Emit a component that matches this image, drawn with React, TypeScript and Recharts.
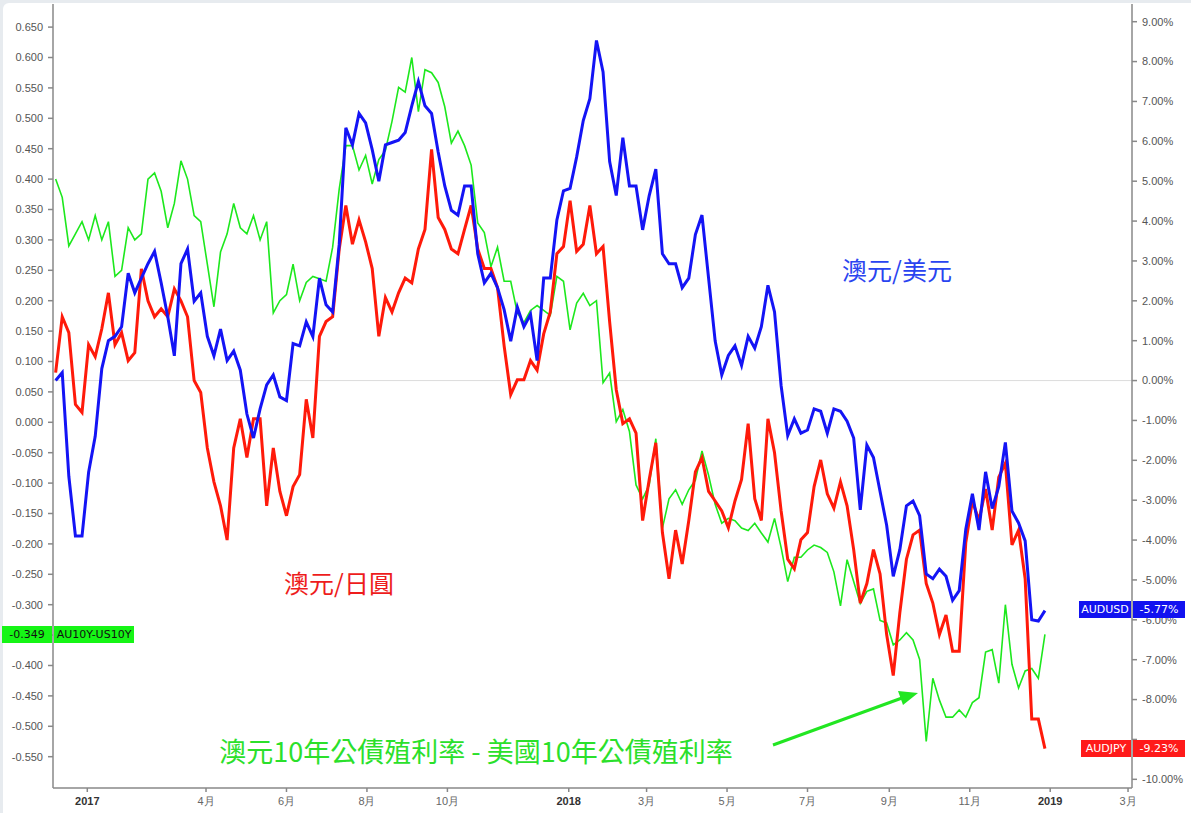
import { LineChart, Line, XAxis, YAxis, ReferenceLine } from 'recharts';

// sample grid: every 5 days starting 2016-12-08 (day offsets from 2017-01-01)
const START_DAY = -24;
const STEP_DAYS = 5;

// AU10Y - US10Y spread (left axis)
const SPREAD = [
  0.40, 0.37, 0.29, 0.31, 0.33, 0.30, 0.34, 0.30, 0.33, 0.24,
  0.25, 0.32, 0.30, 0.31, 0.40, 0.41, 0.38, 0.32, 0.36, 0.43,
  0.40, 0.34, 0.33, 0.26, 0.19, 0.28, 0.31, 0.36, 0.32, 0.31,
  0.34, 0.30, 0.33, 0.18, 0.20, 0.21, 0.26, 0.20, 0.23, 0.24,
  0.236, 0.232, 0.288, 0.384, 0.455, 0.455, 0.415, 0.439, 0.392, 0.432,
  0.447, 0.495, 0.551, 0.543, 0.600, 0.511, 0.580, 0.575, 0.559, 0.519,
  0.459, 0.479, 0.455, 0.423, 0.328, 0.312, 0.256, 0.288, 0.232, 0.232,
  0.180, 0.164, 0.184, 0.192, 0.184, 0.176, 0.240, 0.232, 0.152, 0.196,
  0.212, 0.192, 0.200, 0.065, 0.081, 0.001, 0.021, -0.015, -0.103, -0.126,
  -0.103, -0.027, -0.174, -0.126, -0.111, -0.135, -0.111, -0.095, -0.047, -0.087,
  -0.135, -0.166, -0.158, -0.162, -0.174, -0.178, -0.166, -0.182, -0.197, -0.158,
  -0.206, -0.262, -0.222, -0.222, -0.210, -0.202, -0.206, -0.214, -0.246, -0.302,
  -0.226, -0.262, -0.298, -0.278, -0.274, -0.326, -0.330, -0.366, -0.358, -0.346,
  -0.358, -0.390, -0.525, -0.421, -0.457, -0.485, -0.485, -0.473, -0.485, -0.461,
  -0.453, -0.378, -0.374, -0.429, -0.300, -0.398, -0.437, -0.409, -0.405, -0.421,
  -0.349,
];

// AUD/USD % change (right axis)
const AUDUSD = [
  0.0, 0.2, -2.4, -3.9, -3.9, -2.3, -1.4, 0.3, 1.0, 1.11,
  1.35, 2.69, 2.20, 2.57, 2.93, 3.24, 2.45, 1.60, 0.62, 2.93,
  3.30, 1.99, 2.20, 1.11, 0.62, 1.29, 0.50, 0.74, 0.26, -0.84,
  -1.44, -0.71, -0.11, 0.14, -0.41, -0.5, 0.93, 0.87, 1.47, 1.10,
  2.57, 1.90, 1.72, 3.42, 6.34, 5.91, 6.70, 6.46, 5.79, 5.00,
  5.91, 5.97, 6.03, 6.22, 6.89, 7.50, 6.89, 6.70, 5.73, 4.88,
  4.27, 4.15, 4.88, 4.88, 3.18, 2.45, 2.69, 2.33, 1.78, 0.99,
  1.84, 1.35, 1.66, 0.50, 2.57, 2.57, 4.03, 4.76, 4.82, 5.61,
  6.52, 7.07, 8.53, 7.74, 5.49, 4.64, 6.09, 4.88, 4.88, 3.78,
  4.64, 5.30, 3.18, 2.93, 2.93, 2.33, 2.57, 3.66, 4.15, 2.57,
  0.99, 0.14, 0.63, 0.87, 0.38, 1.11, 0.81, 1.35, 2.39, 1.72,
  -0.13, -1.38, -0.96, -1.32, -1.24, -0.71, -0.77, -1.32, -0.71, -0.77,
  -1.02, -1.44, -3.24, -1.62, -1.93, -2.78, -3.63, -4.91, -4.24, -3.14,
  -3.02, -3.39, -4.85, -4.97, -4.73, -4.91, -5.51, -5.27, -3.73, -2.84,
  -3.75, -2.29, -3.21, -2.66, -1.55, -3.27, -3.57, -4.02, -6.00, -6.03,
  -5.77,
];

// AUD/JPY % change (right axis)
const AUDJPY = [
  0.2, 1.6, 1.2, -0.6, -0.8, 0.9, 0.6, 1.3, 2.2, 0.9,
  1.2, 0.5, 0.7, 2.8, 2.0, 1.6, 1.8, 1.6, 2.3, 2.0,
  1.6, 0.0, -0.3, -1.69, -2.54, -3.14, -4.0, -1.69, -0.96, -1.93,
  -0.96, -0.96, -3.14, -1.69, -2.78, -3.39, -2.66, -2.36, -0.47, -1.44,
  1.11, 1.48, 1.60, 3.30, 4.39, 3.42, 4.03, 3.48, 2.81, 1.11,
  2.08, 1.72, 2.20, 2.57, 2.45, 3.30, 3.79, 5.80, 4.09, 3.79,
  3.30, 3.18, 3.79, 4.39, 3.30, 2.81, 2.81, 2.33, 0.87, -0.35,
  0.02, 0.02, 0.50, 0.26, 1.17, 1.72, 3.18, 3.36, 4.51, 3.24,
  3.42, 4.39, 3.18, 3.36, 1.47, -0.23, -1.08, -0.96, -1.32, -3.51,
  -2.48, -1.56, -3.81, -4.97, -3.75, -4.60, -3.51, -2.29, -1.93, -2.78,
  -3.02, -3.27, -3.69, -3.02, -2.48, -1.08, -2.96, -3.51, -0.96, -1.81,
  -3.27, -4.48, -4.72, -3.99, -3.81, -2.66, -1.99, -2.84, -3.2, -2.54,
  -3.14, -4.24, -5.58, -5.09, -4.24, -4.85, -6.37, -7.40, -5.82, -4.48,
  -3.87, -3.75, -5.09, -5.58, -6.37, -5.88, -6.79, -6.79, -4.06, -3.02,
  -3.51, -2.72, -3.75, -2.42, -2.07, -4.12, -3.75, -4.97, -8.49, -8.49,
  -9.23,
];

const X_TICKS = [
  '2017-01-01', '2017-04-01', '2017-06-01', '2017-08-01', '2017-10-01',
  '2018-01-01', '2018-03-01', '2018-05-01', '2018-07-01', '2018-09-01', '2018-11-01',
  '2019-01-01', '2019-03-01',
];
const X_TICK_LABELS = ['2017', '4月', '6月', '8月', '10月', '2018', '3月', '5月', '7月', '9月', '11月', '2019', '3月'];

const LEFT_TICKS = [0.65, 0.6, 0.55, 0.5, 0.45, 0.4, 0.35, 0.3, 0.25, 0.2, 0.15, 0.1, 0.05, 0,
  -0.05, -0.1, -0.15, -0.2, -0.25, -0.3, -0.35, -0.4, -0.45, -0.5, -0.55];
const RIGHT_TICKS = [9, 8, 7, 6, 5, 4, 3, 2, 1, 0, -1, -2, -3, -4, -5, -6, -7, -8, -9, -10];

// tick labels hidden behind the last-value boxes
const LEFT_HIDDEN = [-0.35];
const RIGHT_HIDDEN = [-9];

const dayOf = (iso: string) => {
  const [y, m, d] = iso.split('-').map(Number);
  return (Date.UTC(y, m - 1, d) - Date.UTC(2017, 0, 1)) / 86400000;
};
const xTickDays = X_TICKS.map(dayOf);

const data = SPREAD.map((v, i) => ({
  day: START_DAY + i * STEP_DAYS,
  spread: v,
  audusd: AUDUSD[i],
  audjpy: AUDJPY[i],
}));

const FONT = '"Liberation Sans", Arial, sans-serif';
const CJK = '"Noto Sans CJK TC", "Noto Sans CJK SC", sans-serif';

const XTick = (props: any) => {
  const { x, y, payload } = props;
  const idx = xTickDays.indexOf(payload.value);
  const label = X_TICK_LABELS[idx] ?? '';
  const isYear = /^\d{4}$/.test(label);
  return (
    <text x={x} y={y} dy="0.71em" textAnchor="middle" fontSize={11} fontFamily={FONT}
      fill={isYear ? '#333' : '#666'} fontWeight={isYear ? 700 : 400}>
      {label}
    </text>
  );
};

const boxText = {
  position: 'absolute' as const,
  height: 17,
  lineHeight: '17px',
  fontSize: 11,
  fontFamily: '"DejaVu Sans", sans-serif',
  textAlign: 'center' as const,
};

export default function App() {
  return (
    <div style={{ position: 'fixed', left: 0, top: 0, width: 1191, height: 813, background: '#e7ebef', overflow: 'hidden' }}>
      <div style={{ position: 'absolute', left: 3, top: 3, width: 1188, height: 810, background: '#fff', borderTopLeftRadius: 6 }} />
      <div style={{ position: 'absolute', left: 0, top: 0 }}>
        <LineChart width={1191} height={813} data={data} margin={{ top: 4, right: 0, bottom: 0, left: 0 }}>
          <XAxis dataKey="day" type="number" domain={[-26, 792]} ticks={xTickDays} tick={<XTick />}
            height={25} tickSize={4} tickMargin={5} stroke="#888" strokeWidth={1.5} interval={0} allowDataOverflow />
          <YAxis yAxisId="left" orientation="left" width={53} domain={[-0.6015, 0.688]} ticks={LEFT_TICKS}
            tickFormatter={(v: number) => (LEFT_HIDDEN.includes(v) ? '' : v.toFixed(3))} tickSize={5} tickMargin={5} interval={0}
            stroke="#888" strokeWidth={1.5} tick={{ fill: '#555', fontSize: 11, fontFamily: FONT }} allowDataOverflow />
          <YAxis yAxisId="right" orientation="right" width={59} domain={[-10.218, 9.444]} ticks={RIGHT_TICKS}
            tickFormatter={(v: number) => (RIGHT_HIDDEN.includes(v) ? '' : `${v.toFixed(2)}%`)} tickSize={5} tickMargin={5} interval={0}
            stroke="#888" strokeWidth={1.5} tick={{ fill: '#555', fontSize: 11, fontFamily: FONT }} allowDataOverflow />
          <ReferenceLine yAxisId="right" y={0} stroke="#dcdcdc" strokeWidth={1} />
          <Line yAxisId="left" dataKey="spread" stroke="#1de81d" strokeWidth={1.6} dot={false} isAnimationActive={false} />
          <Line yAxisId="right" dataKey="audjpy" stroke="#ff1a0a" strokeWidth={3} dot={false} isAnimationActive={false} />
          <Line yAxisId="right" dataKey="audusd" stroke="#1414f5" strokeWidth={3} dot={false} isAnimationActive={false} />
        </LineChart>
      </div>

      <svg width={1191} height={813} style={{ position: 'absolute', left: 0, top: 0, pointerEvents: 'none' }}>
        <text x={897} y={280} textAnchor="middle" fontSize={25} fontFamily={CJK} fill="#2a44f0">澳元/美元</text>
        <text x={339} y={593} textAnchor="middle" fontSize={25} fontFamily={CJK} fill="#ee1c1c">澳元/日圓</text>
        <text x={476} y={762} textAnchor="middle" fontSize={27} fontFamily={CJK} fill="#2be02b">
          澳元10年公債殖利率 - 美國10年公債殖利率
        </text>
        <line x1={773} y1={745} x2={902} y2={698} stroke="#22e622" strokeWidth={3} />
        <polygon points="918,693 898,691 903,705" fill="#22e622" />
      </svg>

      <div style={{ ...boxText, left: 2, top: 626, width: 50, background: '#16f516', color: '#111' }}>-0.349</div>
      <div style={{ ...boxText, left: 54, top: 626, width: 80, background: '#16f516', color: '#111' }}>AU10Y-US10Y</div>

      <div style={{ ...boxText, left: 1079, top: 601, width: 52, background: '#1212f0', color: '#fff' }}>AUDUSD</div>
      <div style={{ ...boxText, left: 1133, top: 601, width: 52, background: '#1212f0', color: '#fff' }}>-5.77%</div>

      <div style={{ ...boxText, left: 1081, top: 740, width: 50, background: '#ff1a1a', color: '#fff' }}>AUDJPY</div>
      <div style={{ ...boxText, left: 1133, top: 740, width: 52, background: '#ff1a1a', color: '#fff' }}>-9.23%</div>
    </div>
  );
}
